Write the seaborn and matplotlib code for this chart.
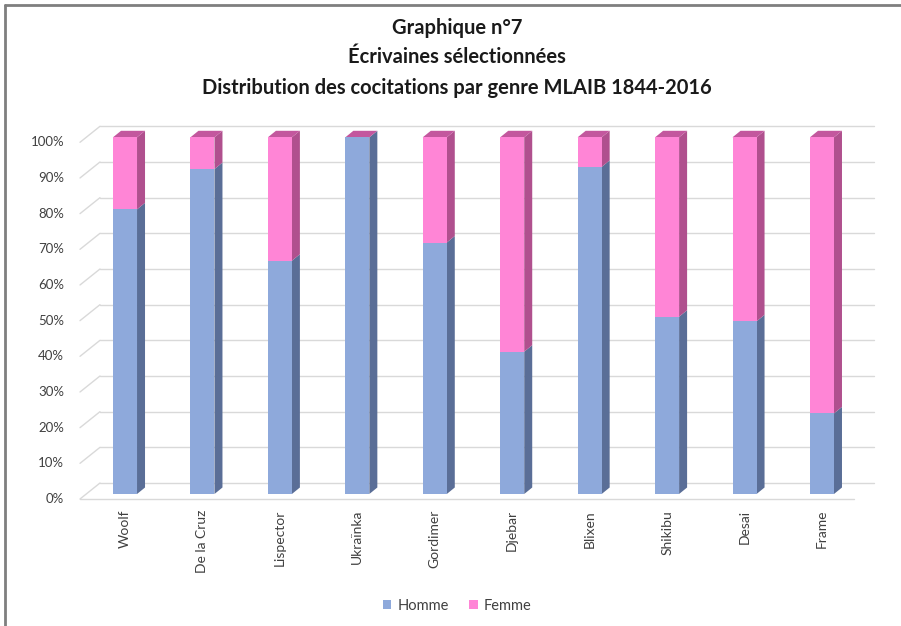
import matplotlib
matplotlib.use("Agg")
import pandas as pd
import seaborn as sns
import matplotlib.pyplot as plt
from matplotlib.patches import Polygon, Patch
from matplotlib.lines import Line2D

# Cocitation shares by gender, MLAIB 1844-2016
auteures = ["Woolf", "De la Cruz", "Lispector", "Ukraïnka", "Gordimer",
            "Djebar", "Blixen", "Shikibu", "Desai", "Frame"]
homme = [0.798, 0.911, 0.654, 1.000, 0.705, 0.399, 0.917, 0.497, 0.484, 0.226]
femme = [0.202, 0.089, 0.346, 0.000, 0.295, 0.601, 0.083, 0.503, 0.516, 0.774]
graduations = [0.0, 0.1, 0.2, 0.3, 0.4, 0.5, 0.6, 0.7, 0.8, 0.9, 1.0]
etiquettes = ["0%", "10%", "20%", "30%", "40%", "50%", "60%", "70%", "80%", "90%", "100%"]
titre = ["Graphique n°7", "Écrivaines sélectionnées",
         "Distribution des cocitations par genre MLAIB 1844-2016"]

BLEU, BLEU_OMBRE = "#8EA9DB", "#5A6E97"
ROSE, ROSE_OMBRE, ROSE_DESSUS = "#FF85D6", "#B0508E", "#C3579E"
GRILLE = "#D9D9D9"

sns.set_theme(style="white")
plt.rcParams["font.family"] = ["Lato", "DejaVu Sans"]

W, H = 901, 626
fig = plt.figure(figsize=(W / 100, H / 100), dpi=100)
ax = fig.add_axes([86.3 / W, (H - 494) / H, 774.4 / W, 356.7 / H])

df = pd.DataFrame({"auteure": auteures, "Homme": homme, "Femme": femme})
df["Total"] = df["Homme"] + df["Femme"]

largeur = 0.31
sns.barplot(data=df, x="auteure", y="Total", color=ROSE, width=largeur,
            saturation=1, ax=ax, zorder=3, linewidth=0, edgecolor="none")
sns.barplot(data=df, x="auteure", y="Homme", color=BLEU, width=largeur,
            saturation=1, ax=ax, zorder=4, linewidth=0, edgecolor="none")
ax.set_xlim(-0.5, len(auteures) - 0.5)
ax.set_ylim(0, 1)

# pixel → data scale for the pseudo-3D depth
px_x = 774.4 / len(auteures)
px_y = 356.7
dx, dy = 8 / px_x, 6.5 / px_y          # bar depth
gx, gy = 13.7 / px_x, 11 / px_y        # back wall offset
fx, fy = -6.3 / px_x, -5 / px_y        # front edge of floor

n = len(auteures)
tot_patches = ax.patches[:n]
h_patches = ax.patches[n:2 * n]
for pt, ph in zip(tot_patches, h_patches):
    x0 = ph.get_x()
    x1 = x0 + ph.get_width()
    h = ph.get_height()
    t = pt.get_height()
    ax.add_patch(Polygon([(x1, 0), (x1 + dx, dy), (x1 + dx, h + dy), (x1, h)],
                         closed=True, fc=BLEU_OMBRE, ec="none", zorder=2.5, clip_on=False))
    ax.add_patch(Polygon([(x1, h), (x1 + dx, h + dy), (x1 + dx, t + dy), (x1, t)],
                         closed=True, fc=ROSE_OMBRE, ec="none", zorder=2.5, clip_on=False))
    ax.add_patch(Polygon([(x0, t), (x1, t), (x1 + dx, t + dy), (x0 + dx, t + dy)],
                         closed=True, fc=ROSE_DESSUS, ec="none", zorder=2.5, clip_on=False))

# back wall gridlines and the left side wall
xa, xb = -0.5, n - 0.5
for v in graduations:
    ax.plot([xa + gx, xb + gx], [v + gy, v + gy], color=GRILLE, lw=1, zorder=1, clip_on=False)
    ax.plot([xa + fx, xa + gx], [v + fy, v + gy], color=GRILLE, lw=1, zorder=1, clip_on=False)
ax.plot([xa + fx, xb + fx], [fy, fy], color=GRILLE, lw=1, zorder=1, clip_on=False)

# y labels sit on the front plane
for v, lab in zip(graduations, etiquettes):
    ax.text(xa + fx - 16 / px_x, v + fy, lab, ha="right", va="center",
            fontsize=9.5, color="#404040")
ax.set_yticks([])

ax.set_xlabel("")
ax.set_ylabel("")
ax.tick_params(axis="x", length=0, pad=11.5, labelsize=10, labelcolor="#404040")
plt.setp(ax.get_xticklabels(), rotation=90, ha="center", va="top")
for s in ax.spines.values():
    s.set_visible(False)
ax.patch.set_alpha(0)

# title
for y, txt in zip([28, 57, 88], titre):
    fig.text(457 / W, 1 - y / H, txt, ha="center", va="center",
             fontsize=14.5, fontweight="bold", color="#1a1a1a")

# legend
poignees = [Patch(fc=BLEU, ec="none", label="Homme"),
            Patch(fc=ROSE, ec="none", label="Femme")]
fig.legend(handles=poignees, loc="center", bbox_to_anchor=(457 / W, 1 - 606 / H),
           ncol=2, frameon=False, fontsize=10.5, handlelength=0.6, handleheight=0.6,
           handletextpad=0.4, columnspacing=1.4, labelcolor="#404040")

# chart frame (top and left edges)
fig.add_artist(Line2D([5 / W, 5 / W], [0, 1 - 5 / H], transform=fig.transFigure,
                      color="#7F7F7F", lw=2))
fig.add_artist(Line2D([5 / W, 1], [1 - 5 / H, 1 - 5 / H], transform=fig.transFigure,
                      color="#7F7F7F", lw=2))

fig.savefig("out.png", dpi=100)
